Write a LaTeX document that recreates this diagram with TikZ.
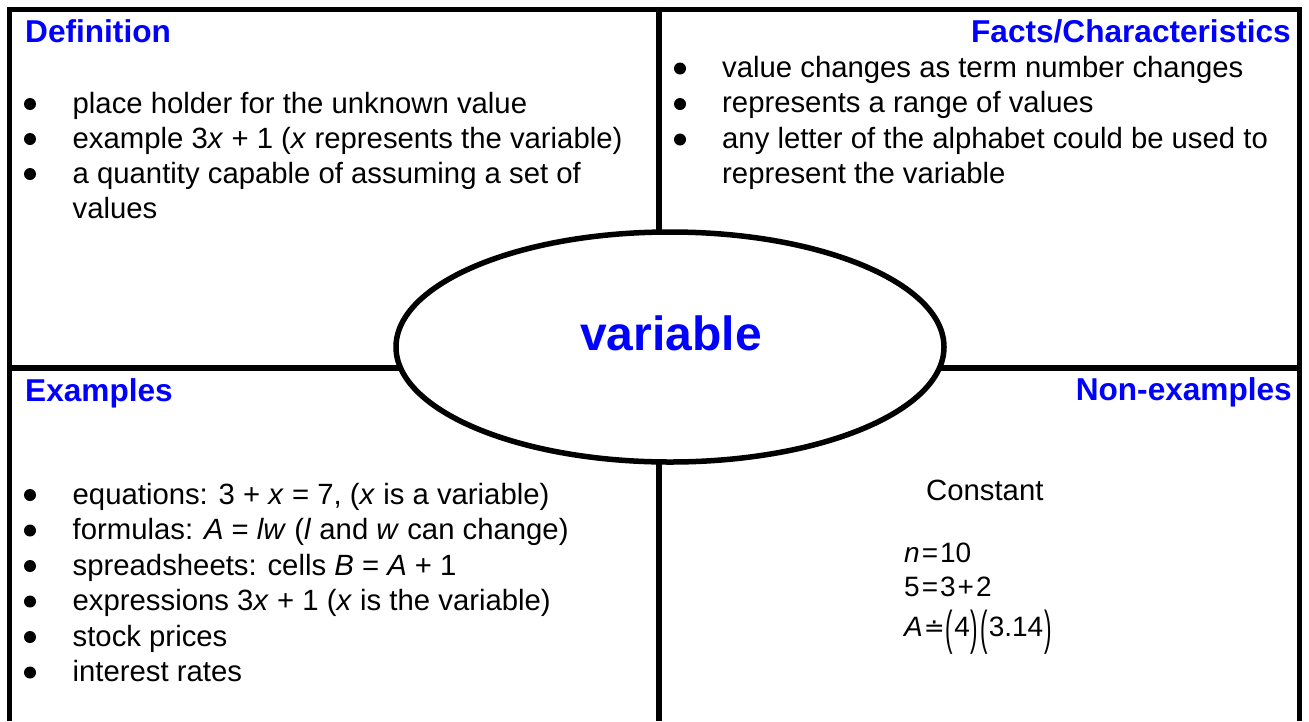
\documentclass[tikz,border=0pt]{standalone}
\usepackage{fontspec}
\usepackage{graphicx}
\setmainfont{Liberation Sans}
\newfontfamily\djv{DejaVu Sans}
\usetikzlibrary{shapes.geometric}
\definecolor{headblue}{RGB}{0,0,255}
\newcommand{\tallparen}[1]{\kern1pt\raisebox{-0.3em}{\scalebox{0.8}[1.7]{#1}}\kern1pt}
\tikzset{
  frame/.style={line width=5.5pt},
  head/.style={inner sep=0pt, text=headblue, font=\fontsize{31.6}{36}\selectfont\bfseries},
  body/.style={inner sep=0pt, anchor=base west, font=\fontsize{29.3}{35}\selectfont},
  bul/.style={circle, fill=black, inner sep=0pt, minimum size=12pt},
  mathtxt/.style={inner sep=0pt, anchor=base west, font=\fontsize{28}{32}\selectfont},
}
\begin{document}
\begin{tikzpicture}[x=1pt,y=-1pt]
\useasboundingbox (0,0) rectangle (1309,721);
% frame coordinates
\coordinate (bl) at (9.5,721);
\coordinate (tl) at (9.5,9.5);
\coordinate (tr) at (1299.5,9.5);
\coordinate (br) at (1299.5,721);
\coordinate (mt) at (659,6.5);
\coordinate (mb) at (659,721);
\coordinate (ml) at (9.5,368);
\coordinate (mr) at (1299.5,368);
\draw[frame] (bl) -- (tl) -- (tr) -- (br);
\draw[frame] (mt) -- (mb);
\draw[frame] (ml) -- (mr);
% central ellipse
\node[ellipse, draw, line width=5.5pt, fill=white, minimum width=548pt, minimum height=230pt, inner sep=0pt] (center) at (670,347) {};
\node[head, font=\fontsize{48}{52}\selectfont\bfseries, anchor=base] (title) at (671,350) {variable};
% headings
\node[head, anchor=base west] (hdef) at (25,42) {Definition};
\node[head, anchor=base east] (hfact) at (1291,42) {Facts/Characteristics};
\node[head, anchor=base west] (hex) at (25,401) {Examples};
\node[head, anchor=base east] (hnon) at (1292,400) {Non-examples};
% Definition
\foreach \y/\n in {113/d1,148/d2,183/d3}{\node[bul] (b\n) at (30,\y-9) {};}
\node[body] (d1) at (72.5,113) {place holder for the unknown value};
\node[body] (d2) at (72.5,148) {example 3\textit{x} + 1 (\textit{x} represents the variable)};
\node[body] (d3) at (72.5,183) {a quantity capable of assuming a set of};
\node[body] (d4) at (72.5,218) {values};
% Facts
\foreach \y/\n in {77/f1,112.5/f2,148/f3}{\node[bul] (b\n) at (680,\y-8.5) {};}
\node[body] (f1) at (722,77) {value changes as term number changes};
\node[body] (f2) at (722,112.5) {represents a range of values};
\node[body] (f3) at (722,148) {any letter of the alphabet could be used to};
\node[body] (f4) at (722,183) {represent the variable};
% Examples
\foreach \y/\n in {504/e1,539.5/e2,575/e3,610.5/e4,646/e5,681.5/e6}{\node[bul] (b\n) at (30,\y-9) {};}
\node[body] (e1) at (72.5,504) {equations: 3 + \textit{x} = 7, (\textit{x} is a variable)};
\node[body] (e2) at (72.5,539.5) {formulas: \textit{A} = \textit{lw} (\textit{l} and \textit{w} can change)};
\node[body] (e3) at (72.5,575) {spreadsheets: cells \textit{B} = \textit{A} + 1};
\node[body] (e4) at (72.5,610.5) {expressions 3\textit{x} + 1 (\textit{x} is the variable)};
\node[body] (e5) at (72.5,646) {stock prices};
\node[body] (e6) at (72.5,681.5) {interest rates};
% Non-examples
\node[body] (c1) at (926,500) {Constant};
\node[mathtxt] (m1) at (904,562) {\textit{n}\kern2pt=\kern2pt10};
\node[mathtxt] (m2) at (904,596) {5\kern2pt=\kern2pt3\kern2pt+\kern2pt2};
\node[mathtxt] (m3) at (904,636) {\textit{A}\kern1pt{\djv\fontsize{25}{28}\selectfont ≐}\tallparen{(}4\tallparen{)}\tallparen{(}3.14\tallparen{)}};
\end{tikzpicture}
\end{document}
